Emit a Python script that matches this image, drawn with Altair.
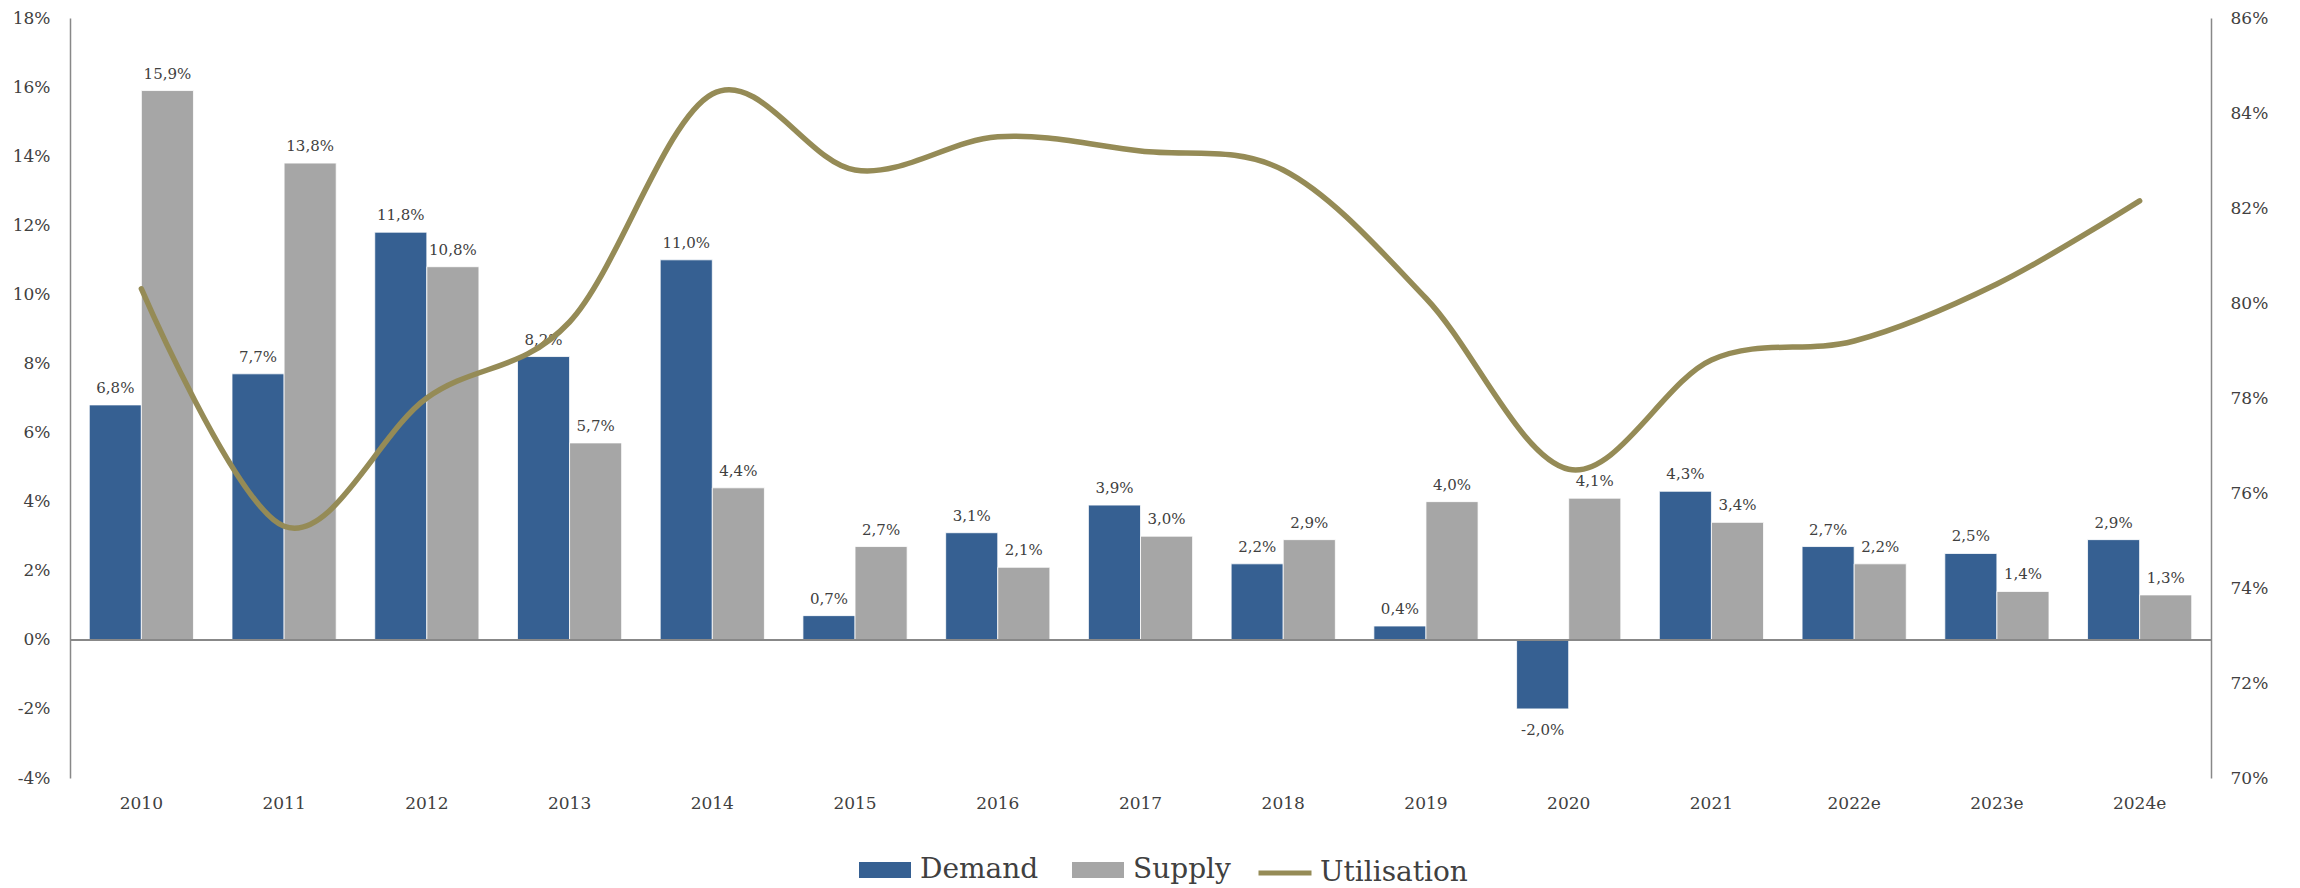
import altair as alt
import pandas as pd

years = ["2010", "2011", "2012", "2013", "2014", "2015", "2016", "2017",
         "2018", "2019", "2020", "2021", "2022e", "2023e", "2024e"]
demand = [6.8, 7.7, 11.8, 8.2, 11.0, 0.7, 3.1, 3.9, 2.2, 0.4, -2.0, 4.3, 2.7, 2.5, 2.9]
supply = [15.9, 13.8, 10.8, 5.7, 4.4, 2.7, 2.1, 3.0, 2.9, 4.0, 4.1, 3.4, 2.2, 1.4, 1.3]
utilisation = [80.3, 75.3, 78.0, 79.6, 84.4, 82.8, 83.5, 83.2, 82.8, 80.1, 76.5, 78.8, 79.2, 80.4, 82.15]

series_names = ["Demand", "Supply"]
left_ticks = [-4, -2, 0, 2, 4, 6, 8, 10, 12, 14, 16, 18]
right_ticks = [70, 72, 74, 76, 78, 80, 82, 84, 86]

FONT = "DejaVu Serif"
TXT = "#404040"
C_DEM = "#366092"
C_SUP = "#a6a6a6"
C_UTIL = "#958b56"

rows = []
for i, y in enumerate(years):
    for s, vals in (("Demand", demand), ("Supply", supply)):
        v = vals[i]
        rows.append({"year": y, "series": s, "value": v,
                     "label": f"{v:.1f}%".replace(".", ",")})
bars_df = pd.DataFrame(rows)
line_df = pd.DataFrame({"year": years, "util": utilisation, "lab": ["Utilisation"] * len(years)})

x_enc = alt.X("year:N", sort=years, title=None,
              scale=alt.Scale(paddingInner=0.27, paddingOuter=0.135),
              axis=alt.Axis(domain=False, ticks=False, tickSize=0, labelPadding=17,
                            labelFont=FONT, labelFontSize=17, labelColor=TXT, labelAngle=0))
xoff = alt.XOffset("series:N", sort=series_names, scale=alt.Scale(paddingInner=0, paddingOuter=0))
y_left = alt.Y("value:Q", title=None,
               scale=alt.Scale(domain=[-4, 18], nice=False, zero=False),
               axis=alt.Axis(values=left_ticks, labelExpr="datum.value + '%'", grid=False,
                             ticks=False, tickSize=0, labelPadding=20, domain=True,
                             domainColor="#888888", domainWidth=1.5,
                             labelFont=FONT, labelFontSize=17, labelColor=TXT))

LEG_Y = 826

base = alt.Chart(bars_df)
bars = base.mark_bar(stroke="white", strokeWidth=0.8).encode(
    x=x_enc, xOffset=xoff, y=y_left,
    color=alt.Color("series:N", sort=series_names,
                    scale=alt.Scale(domain=series_names, range=[C_DEM, C_SUP]),
                    legend=alt.Legend(orient="none", legendX=789, legendY=LEG_Y,
                                      direction="horizontal", title=None,
                                      symbolType="M-1,-0.3077H1V0.3077H-1Z",
                                      symbolSize=2704, symbolStrokeWidth=0,
                                      labelFont=FONT, labelFontSize=28, labelColor=TXT,
                                      labelOffset=9, columnPadding=33, labelLimit=400,
                                      padding=0)),
)
pos_labels = base.transform_filter("datum.value >= 0").mark_text(
    baseline="bottom", dy=-9, font=FONT, fontSize=15, color=TXT
).encode(x=x_enc, xOffset=xoff, y=y_left, text="label:N")
neg_labels = base.transform_filter("datum.value < 0").mark_text(
    baseline="top", dy=14, font=FONT, fontSize=15, color=TXT
).encode(x=x_enc, xOffset=xoff, y=y_left, text="label:N")
zero_rule = base.mark_rule(color="#888888", strokeWidth=1.5).encode(y=alt.datum(0))

left = alt.layer(bars, zero_rule, pos_labels, neg_labels)

line = alt.Chart(line_df).mark_line(interpolate="cardinal", strokeWidth=5.5, strokeCap="round").encode(
    x=alt.X("year:N", sort=years),
    y=alt.Y("util:Q", title=None,
            scale=alt.Scale(domain=[70, 86], nice=False, zero=False),
            axis=alt.Axis(orient="right", values=right_ticks, labelExpr="datum.value + '%'",
                          grid=False, ticks=False, tickSize=0, labelPadding=19,
                          domainColor="#888888", domainWidth=1.5,
                          labelFont=FONT, labelFontSize=17, labelColor=TXT)),
    stroke=alt.Stroke("lab:N", scale=alt.Scale(domain=["Utilisation"], range=[C_UTIL]),
                      legend=alt.Legend(orient="none", legendX=1186, legendY=LEG_Y,
                                        direction="horizontal", title=None,
                                        symbolType="stroke", symbolSize=2809,
                                        symbolStrokeWidth=5,
                                        labelFont=FONT, labelFontSize=28, labelColor=TXT,
                                        labelOffset=6, labelLimit=400, padding=0)),
)

chart = alt.layer(left, line).resolve_scale(y="independent").properties(
    width=2141, height=760,
    autosize=alt.AutoSizeParams(type="none"),
    padding={"left": 62, "top": 10, "right": 80, "bottom": 110},
    background="white",
).configure_view(stroke=None)

chart.save("out.html", embed_options={"renderer": "svg", "actions": False})
